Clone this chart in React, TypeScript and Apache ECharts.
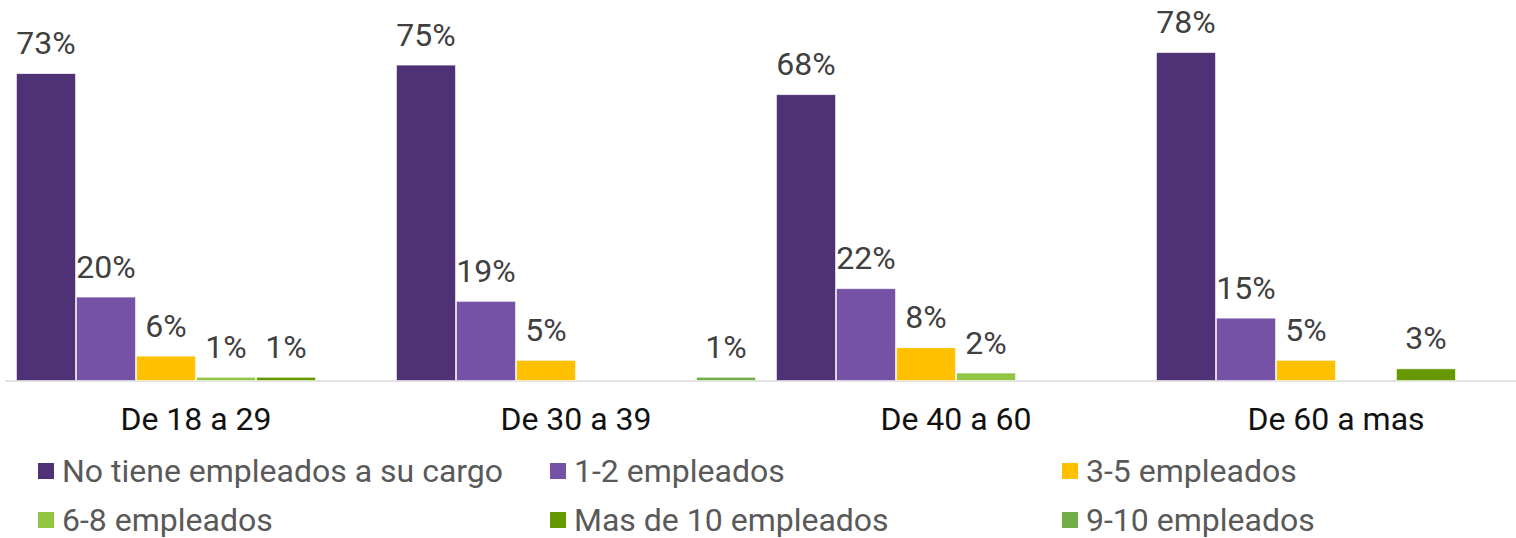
import React, { useEffect, useRef } from "react";
import * as echarts from "echarts";

const categories = ["De 18 a 29", "De 30 a 39", "De 40 a 60", "De 60 a mas"];
const seriesNames = [
  "No tiene empleados a su cargo",
  "1-2 empleados",
  "3-5 empleados",
  "6-8 empleados",
  "Mas de 10 empleados",
  "9-10 empleados",
];
const noTiene = [73, 75, 68, 78];
const emp12 = [20, 19, 22, 15];
const emp35 = [6, 5, 8, 5];
const emp68 = [1, null, 2, null];
const mas10 = [1, null, null, 3];
const emp910 = [null, 1, null, null];
const seriesValues = [noTiene, emp12, emp35, emp68, mas10, emp910];
const colors = ["#4F3276", "#7652A6", "#FFC000", "#92C544", "#669900", "#70AD47"];

const FONT = "Roboto";

export default function App() {
  const ref = useRef<HTMLDivElement>(null);
  useEffect(() => {
    document.body.style.margin = "0";
    const chart = echarts.init(ref.current!, undefined, { renderer: "svg" });
    const legendCol = (left: number, names: string[]) => ({
      show: true,
      orient: "vertical",
      left: left - 5,
      top: 450,
      height: 110,
      itemWidth: 18,
      itemHeight: 18,
      itemGap: 17,
      icon: "rect",
      selectedMode: false,
      data: names,
      textStyle: {
        fontFamily: FONT,
        fontSize: 32,
        color: "#595959",
        lineHeight: 32,
        padding: [0, 0, 0, 2],
      },
    });
    chart.setOption({
      animation: false,
      color: colors,
      grid: { left: 6, top: 1.4, width: 1520, height: 379.6, containLabel: false },
      legend: [
        legendCol(36, [seriesNames[0], seriesNames[3]]),
        legendCol(548, [seriesNames[1], seriesNames[4]]),
        legendCol(1060, [seriesNames[2], seriesNames[5]]),
      ],
      xAxis: {
        type: "category",
        data: categories,
        axisTick: { show: false },
        axisLine: { show: true, lineStyle: { color: "#d9d9d9", width: 1.5 } },
        axisLabel: {
          fontFamily: FONT,
          fontSize: 32,
          color: "#111",
          margin: 22,
        },
      },
      yAxis: {
        type: "value",
        min: 0,
        max: 90,
        show: false,
        splitLine: { show: false },
      },
      series: seriesNames.map((name, i) => ({
        name,
        type: "bar",
        data: seriesValues[i],
        barWidth: 60,
        barGap: "0%",
        itemStyle: { color: colors[i], borderColor: "#ffffff", borderWidth: 0.75 },
        label: {
          show: true,
          position: "top",
          distance: 14,
          formatter: "{c}%",
          fontFamily: FONT,
          fontSize: 32,
          color: "#404040",
        },
      })),
    });
    return () => chart.dispose();
  }, []);
  return (
    <div style={{ width: 1516, height: 538, overflow: "hidden" }}>
      <div ref={ref} style={{ width: 1530, height: 538 }} />
    </div>
  );
}
